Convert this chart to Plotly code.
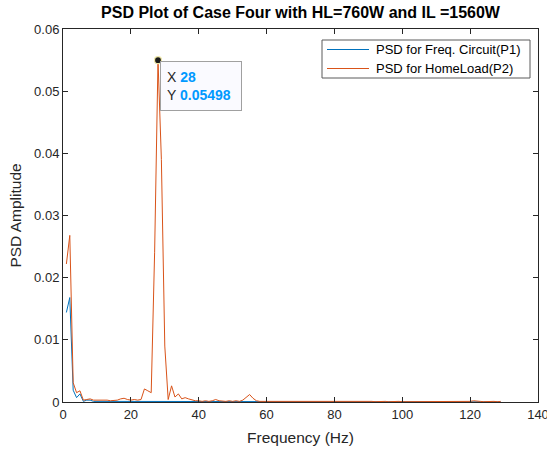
import plotly.graph_objects as go

# Frequency axis (Hz)
freq = list(range(1, 130))

# PSD for Freq. Circuit (P1)
p1 = [0.0144, 0.0168, 0.0019, 0.0007, 0.0013, 0.0001, 0.0003, 0.0003, 0.0001, 0.0001,
      0.00005, 0.00005, 0.00004, 0.00003, 0.00004, 0.00005, 0.00004, 0.00003, 0.00003, 0.00004,
      0.00003, 0.00003, 0.00004, 0.00005, 0.00004, 0.00005, 0.00006, 0.00008, 0.00006, 0.00004,
      0.00003, 0.00004, 0.00003, 0.00003, 0.00002, 0.00003, 0.00002, 0.00002, 0.00003, 0.00002,
      0.00002, 0.00002, 0.00003, 0.00002, 0.00003, 0.00002, 0.00002, 0.00002, 0.00002, 0.00002,
      0.00002, 0.00002, 0.00003, 0.00004, 0.00005, 0.00003, 0.00002, 0.00002, 0.00002, 0.00002,
      0.00002, 0.00002, 0.00002, 0.00002, 0.00002, 0.00002, 0.00002, 0.00002, 0.00002, 0.00002,
      0.00002, 0.00002, 0.00002, 0.00002, 0.00002, 0.00002, 0.00002, 0.00002, 0.00002, 0.00002,
      0.00002, 0.00003, 0.00002, 0.00002, 0.00003, 0.00002, 0.00002, 0.00002, 0.00002, 0.00002,
      0.00002, 0.00002, 0.00002, 0.00002, 0.00002, 0.00002, 0.00002, 0.00002, 0.00002, 0.00002,
      0.00002, 0.00002, 0.00002, 0.00002, 0.00002, 0.00002, 0.00002, 0.00002, 0.00002, 0.00002,
      0.00002, 0.00002, 0.00002, 0.00002, 0.00002, 0.00002, 0.00002, 0.00002, 0.00002, 0.00002,
      0.00002, 0.00003, 0.00002, 0.00002, 0.00002, 0.00002, 0.00002, 0.00002, 0.00002]

# PSD for HomeLoad (P2)
p2 = [0.0222, 0.0268, 0.0031, 0.0015, 0.0018, 0.0003, 0.0004, 0.0005, 0.0003, 0.0003,
      0.0003, 0.0004, 0.0003, 0.0002, 0.0002, 0.0003, 0.0005, 0.0006, 0.0004, 0.0003,
      0.0004, 0.0003, 0.0004, 0.0021, 0.0018, 0.0015, 0.0240, 0.05498, 0.0390, 0.0090,
      0.0004, 0.0026, 0.0008, 0.0013, 0.0005, 0.0007, 0.0005, 0.0003, 0.0002, 0.0002,
      0.0001, 0.0002, 0.0001, 0.0002, 0.0004, 0.0002, 0.0001, 0.0001, 0.0002, 0.0001,
      0.0002, 0.0001, 0.0003, 0.0008, 0.0012, 0.0006, 0.0002, 0.0001, 0.0001, 0.0001,
      0.0001, 0.0001, 0.0002, 0.0001, 0.0001, 0.0001, 0.0001, 0.0002, 0.0001, 0.0001,
      0.0001, 0.0001, 0.0001, 0.0001, 0.0001, 0.0002, 0.0001, 0.0001, 0.0001, 0.0001,
      0.0001, 0.0002, 0.0001, 0.0001, 0.0002, 0.0001, 0.0001, 0.0001, 0.0001, 0.0001,
      0.0001, 0.00005, 0.0001, 0.00005, 0.0001, 0.00005, 0.0001, 0.00005, 0.0001, 0.00005,
      0.00005, 0.0001, 0.00005, 0.00005, 0.0001, 0.00005, 0.00005, 0.0001, 0.00005, 0.00005,
      0.0001, 0.00005, 0.00005, 0.0001, 0.00005, 0.00005, 0.0001, 0.00005, 0.0001, 0.0001,
      0.0002, 0.0001, 0.0001, 0.00005, 0.0001, 0.00005, 0.0001, 0.00005, 0.0001]

series_names = ["PSD for Freq. Circuit(P1)", "PSD for HomeLoad(P2)"]
series_colors = ["#0072BD", "#D95319"]
x_ticks = [0, 20, 40, 60, 80, 100, 120, 140]
y_ticks = [0, 0.01, 0.02, 0.03, 0.04, 0.05, 0.06]
y_tick_text = ["0", "0.01", "0.02", "0.03", "0.04", "0.05", "0.06"]

TXT = "rgb(38,38,38)"
FONT = "Liberation Sans, Arial, sans-serif"
L, R, T, B = 63, 9, 29, 48
W, H = 547, 450
pw = W - L - R
ph = H - T - B


def px2x(p):
    return (p - L) / pw


def px2y(p):
    return 1 - (p - T) / ph


fig = go.Figure()
fig.add_trace(go.Scatter(x=freq, y=p1, mode="lines", name=series_names[0],
                         line=dict(color=series_colors[0], width=1)))
fig.add_trace(go.Scatter(x=freq, y=p2, mode="lines", name=series_names[1],
                         line=dict(color=series_colors[1], width=1)))

# data tip at the HomeLoad peak
k = max(range(len(p2)), key=lambda i: p2[i])
px, py = freq[k], p2[k]
fig.add_trace(go.Scatter(x=[px], y=[py], mode="markers", showlegend=False,
                         marker=dict(color="#1a1a1a", size=7,
                                     line=dict(color="#EDE6A8", width=1.2))))
VAL = "rgb(0,153,255)"
fig.add_annotation(
    x=px, y=py, xref="x", yref="y", xanchor="left", yanchor="top",
    xshift=2, yshift=-1, showarrow=False, align="left",
    text=(f"X <span style='color:{VAL}'><b>{px:g}</b></span><br>"
          f"Y <span style='color:{VAL}'><b>{py:.4g}</b></span>"),
    font=dict(family=FONT, size=14, color=TXT),
    bgcolor="rgb(250,250,255)", bordercolor="rgb(160,160,160)",
    borderwidth=1, borderpad=6, width=68, height=36,
)

# legend box drawn in MATLAB style (box 322..530 x 40..78 px)
fig.add_shape(type="rect", xref="paper", yref="paper",
              x0=px2x(322), x1=px2x(530), y0=px2y(78), y1=px2y(40),
              line=dict(color="rgb(90,90,90)", width=1), fillcolor="white", layer="above")
for i, (nm, col) in enumerate(zip(series_names, series_colors)):
    yc = 49.5 + 19 * i
    fig.add_shape(type="line", xref="paper", yref="paper",
                  x0=px2x(327), x1=px2x(369), y0=px2y(yc), y1=px2y(yc),
                  line=dict(color=col, width=1), layer="above")
    fig.add_annotation(x=px2x(374), y=px2y(yc), xref="paper", yref="paper",
                       xanchor="left", yanchor="middle", showarrow=False,
                       text=nm, font=dict(family=FONT, size=13, color="black"))

fig.update_layout(
    width=W, height=H, autosize=False,
    margin=dict(l=L, r=R, t=T, b=B, autoexpand=False),
    paper_bgcolor="white", plot_bgcolor="white",
    font=dict(family=FONT, size=13, color=TXT),
    title=dict(text="<b>PSD Plot of Case Four with HL=760W and IL =1560W</b>",
               x=(L + W - R) / 2 / W, xanchor="center",
               y=1 - 12 / H, yanchor="middle",
               font=dict(family=FONT, size=16, color="black")),
    showlegend=False,
)
fig.update_xaxes(range=[0, 140], tickvals=x_ticks, showgrid=False, zeroline=False,
                 automargin=False, ticklabeloverflow="allow",
                 showline=True, linecolor=TXT, linewidth=1, mirror="ticks",
                 ticks="inside", ticklen=5, tickcolor=TXT,
                 tickfont=dict(size=13, color=TXT),
                 title=dict(text="Frequency (Hz)", font=dict(size=15.5, color=TXT), standoff=11))
fig.update_yaxes(range=[0, 0.06], tickvals=y_ticks, ticktext=y_tick_text,
                 showgrid=False, zeroline=False, automargin=False,
                 showline=True, linecolor=TXT, linewidth=1, mirror="ticks",
                 ticks="inside", ticklen=5, tickcolor=TXT,
                 tickfont=dict(size=13, color=TXT),
                 title=dict(text="PSD Amplitude", font=dict(size=15.5, color=TXT), standoff=8))

fig.write_html("out.html", config={"displayModeBar": False},
               post_script="document.body.style.margin='0';")
